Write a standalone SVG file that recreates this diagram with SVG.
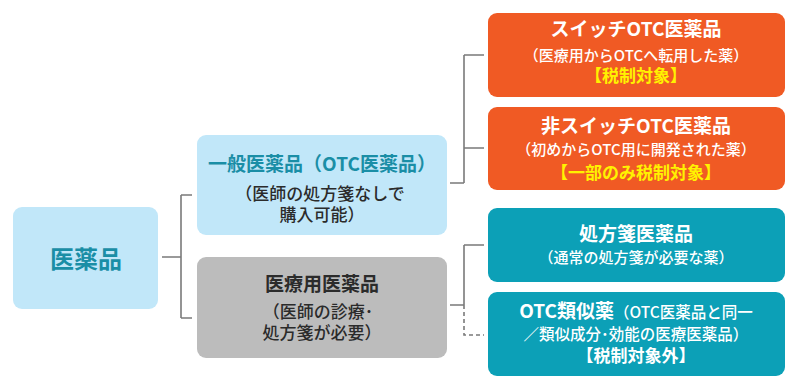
<svg xmlns="http://www.w3.org/2000/svg" width="800" height="390" viewBox="0 0 800 390">
<style>
text{font-family:"Noto Sans CJK JP","Noto Sans",sans-serif;text-anchor:middle}
.t{font-size:19px;font-weight:700}
.s{font-size:15px;font-weight:500}
.m{font-size:17px;font-weight:500}
.w{fill:#ffffff}
.y{fill:#fff200;font-size:17px;font-weight:700}
.dk{fill:#2b2b2b}
.tl{fill:#1a8ea6}
.ln{fill:none;stroke:#7a7a7a;stroke-width:1.6}
</style>
<rect width="800" height="390" fill="#ffffff"/>
<g id="connectors">
<path class="ln" d="M162 257H181M181 195V318M181 195H192M181 318H192"/>
<path class="ln" d="M450 183H464M464 55V183M464 55H484M464 148H484"/>
<path class="ln" d="M450 305H464M464 245V305M464 245H484"/>
<path class="ln" d="M464 305V335H484" stroke-dasharray="4,3"/>
</g>
<g id="root">
<rect x="13" y="207" width="145" height="102" rx="9" fill="#c1e7f9"/>
<text x="86" y="268" class="tl" style="font-size:24px;font-weight:700">医薬品</text>
</g>
<g id="otc">
<rect x="197" y="135" width="250" height="100" rx="9" fill="#c1e7f9"/>
<text x="322" y="171" class="t tl">一般医薬品（OTC医薬品）</text>
<text x="320" y="200" class="m dk">（医師の処方箋なしで</text>
<text x="322" y="221" class="m dk">購入可能）</text>
</g>
<g id="rx">
<rect x="197" y="257" width="250" height="101" rx="9" fill="#bcbcbc"/>
<text x="322" y="291" class="t dk">医療用医薬品</text>
<text x="318" y="318" class="m dk">（医師の診療･</text>
<text x="322" y="339" class="m dk">処方箋が必要）</text>
</g>
<g id="switch">
<rect x="488" y="13" width="297" height="84" rx="9" fill="#f05a24"/>
<text x="636" y="36" class="t w">スイッチOTC医薬品</text>
<text x="636" y="61" class="s w">（医療用からOTCへ転用した薬）</text>
<text x="636" y="82" class="y">【税制対象】</text>
</g>
<g id="nonswitch">
<rect x="488" y="107" width="297" height="83" rx="9" fill="#f05a24"/>
<text x="636" y="133" class="t w">非スイッチOTC医薬品</text>
<text x="636" y="155" class="s w">（初めからOTC用に開発された薬）</text>
<text x="636" y="179" class="y">【一部のみ税制対象】</text>
</g>
<g id="prescription">
<rect x="488" y="208" width="297" height="74" rx="9" fill="#0ca0b7"/>
<text x="636" y="241" class="t w">処方箋医薬品</text>
<text x="636" y="263" class="s w">（通常の処方箋が必要な薬）</text>
</g>
<g id="similar">
<rect x="488" y="292" width="297" height="84" rx="9" fill="#0ca0b7"/>
<text x="636" y="318" class="w"><tspan style="font-size:19px;font-weight:700">OTC類似薬</tspan><tspan style="font-size:15.5px;font-weight:500">（OTC医薬品と同一</tspan></text>
<text x="636" y="340" class="w" style="font-size:15.5px;font-weight:500">／類似成分･効能の医療医薬品）</text>
<text x="636" y="362" class="w" style="font-size:17px;font-weight:700">【税制対象外】</text>
</g>
</svg>
